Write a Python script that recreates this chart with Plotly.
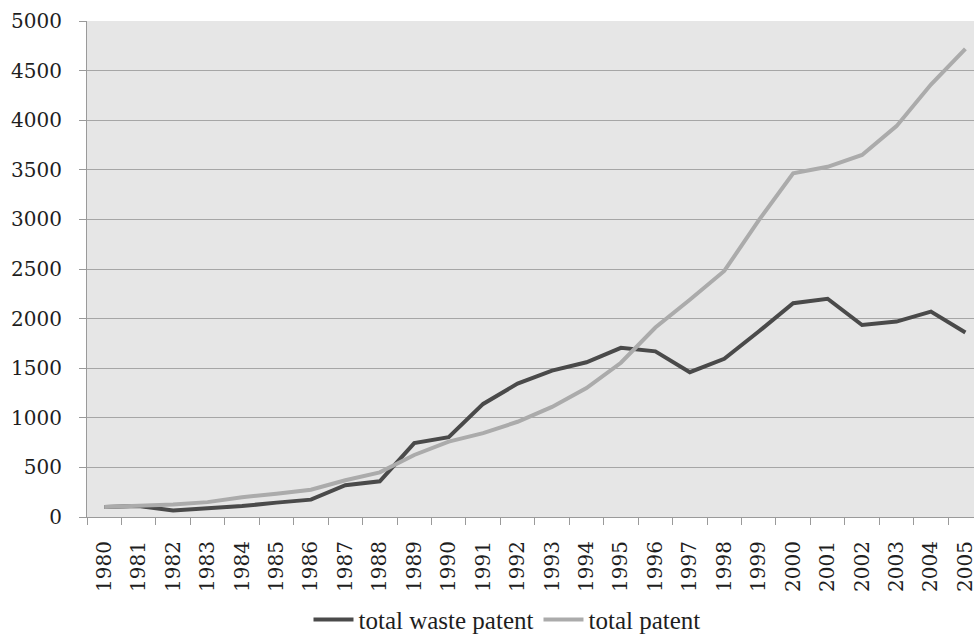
import plotly.graph_objects as go

years = list(range(1980, 2006))
total_waste_patent = [100, 110, 65, 85, 110, 145, 175, 320, 360, 745, 805, 1140, 1345, 1475, 1560, 1705, 1670, 1460, 1595, 1870, 2155, 2200, 1935, 1970, 2070, 1860]
total_patent = [100, 110, 125, 150, 200, 235, 275, 370, 450, 625, 760, 845, 960, 1110, 1300, 1555, 1910, 2190, 2480, 2990, 3465, 3530, 3650, 3940, 4360, 4720]

tick_font = "DejaVu Serif"
legend_font = "Liberation Serif"
text_color = "#1e1e1e"

fig = go.Figure()
fig.add_trace(go.Scatter(x=years, y=total_waste_patent, mode="lines", name="total waste patent",
                         line=dict(color="#4a4a4a", width=4)))
fig.add_trace(go.Scatter(x=years, y=total_patent, mode="lines", name="total patent",
                         line=dict(color="#ababab", width=4)))

fig.update_layout(
    width=974, height=637,
    margin=dict(l=87, r=0, t=21, b=120, autoexpand=False),
    paper_bgcolor="white",
    plot_bgcolor="#e6e6e6",
    font=dict(family=tick_font, size=20, color=text_color),
    showlegend=True,
    legend=dict(orientation="h", xref="paper", x=0.4735, xanchor="center",
                yref="container", y=0.027, yanchor="middle",
                font=dict(family=legend_font, size=25, color=text_color),
                bgcolor="rgba(0,0,0,0)", borderwidth=0, itemwidth=40, tracegroupgap=0),
    xaxis=dict(
        range=[1979.5, 2005.25],
        tickmode="array", tickvals=years, ticktext=[str(y) for y in years],
        tickangle=-90, ticks="", showgrid=False,
        showline=True, linecolor="#9a9a9a", linewidth=1,
        minor=dict(tickmode="linear", tick0=1979.5, dtick=1, ticks="outside", ticklen=7,
                   tickcolor="#9a9a9a", showgrid=False),
        ticklabelstandoff=15, ticklabeloverflow="allow",
        tickfont=dict(family=tick_font, size=20, color=text_color),
        zeroline=False, automargin=False,
    ),
    yaxis=dict(
        range=[0, 5000], tickmode="linear", tick0=0, dtick=500,
        showgrid=True, gridcolor="#a6a6a6", gridwidth=1.2,
        showline=True, linecolor="#9a9a9a", linewidth=1,
        ticks="outside", ticklen=7, tickcolor="#9a9a9a",
        ticklabelstandoff=13, ticklabeloverflow="allow",
        tickfont=dict(family=tick_font, size=20, color=text_color),
        zeroline=False, automargin=False,
    ),
)

# remove the default page margin and scrollbars so the figure fills the window exactly
fig.write_html("out.html",
               config={"displayModeBar": False},
               post_script="document.body.style.margin='0';document.body.style.overflow='hidden';")
